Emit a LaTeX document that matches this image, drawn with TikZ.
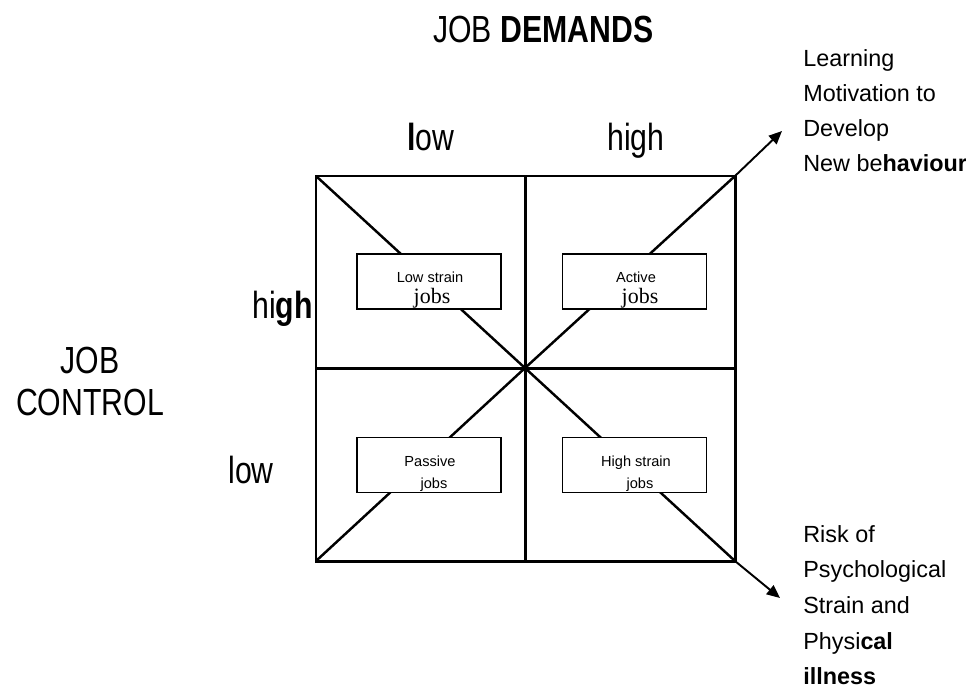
\documentclass[tikz,border=0pt]{standalone}
\usepackage{fontspec}
\setmainfont{Liberation Sans}
\newfontfamily\narrowfont[FakeStretch=0.8]{Liberation Sans}
\newfontfamily\timesfont{Liberation Serif}
\usetikzlibrary{arrows.meta,calc,positioning}
\tikzstyle{quad} = [draw=black, line width=1.7pt]
\tikzstyle{diag} = [draw=black, line width=1.4pt]
\tikzstyle{outarrow} = [line width=1.1pt, -{Triangle[length=7.5pt,width=6.5pt]}]
\tikzstyle{jobbox} = [draw=black, fill=white, line width=0.85pt, minimum width=2.88cm, minimum height=1.1cm, inner sep=0]
\tikzstyle{axislabel} = [font=\narrowfont\fontsize{21.5}{23.8}\selectfont, inner sep=0]
\tikzstyle{boxtxt} = [font=\fontsize{8.3}{10}\selectfont, inner sep=0, anchor=base]
\tikzstyle{serifjobs} = [font=\timesfont\fontsize{12.5}{14}\selectfont, inner sep=0, anchor=base]
\tikzstyle{outcome} = [font=\fontsize{13.3}{20}\selectfont, inner sep=0, align=left, anchor=north west]

\begin{document}
\begin{tikzpicture}[x=0.02cm,y=-0.02cm]
\useasboundingbox (0,0) rectangle (966,690);
\coordinate (tl) at (316,176);
\coordinate (tr) at (735,176);
\coordinate (bl) at (316,561);
\coordinate (br) at (735,561);
\coordinate (c) at (525,368);
\coordinate (tm) at (525,176);
\coordinate (bm) at (525,561);
\coordinate (lm) at (316,368);
\coordinate (rm) at (735,368);
\coordinate (learnend) at (782,131);
\coordinate (riskend) at (780,598);
% diagonals
\draw[diag] (tl)--(c);
\draw[diag] (tr)--(c);
\draw[diag] (bl)--(c);
\draw[diag] (br)--(c);
% the square
\draw[quad] (tl) rectangle (br);
\draw[quad] (tm)--(bm);
\draw[quad] (lm)--(rm);
\draw[outarrow] (tr)--(learnend);
\draw[outarrow] (br)--(riskend);
% the four jobs
\node[jobbox] (lowstrain) at (429,281.5) {};
\node[boxtxt] (lowstraintxt) at ($(lowstrain.south)+(1,-27)$) {Low strain};
\node[serifjobs] (lowstrainjobs) at ($(lowstrain.south)+(3,-6)$) {jobs};
\node[jobbox] (active) at (634.5,281.5) {};
\node[boxtxt] (activetxt) at ($(active.south)+(1.5,-27)$) {Active};
\node[serifjobs] (activejobs) at ($(active.south)+(5.5,-6)$) {jobs};
\node[jobbox] (passive) at (429,465) {};
\node[boxtxt] (passivetxt) at ($(passive.south)+(1,-27)$) {Passive};
\node[boxtxt] (passivejobs) at ($(passive.south)+(5,-5)$) {jobs};
\node[jobbox] (highstrain) at (634.5,465) {};
\node[boxtxt] (highstraintxt) at ($(highstrain.south)+(1.5,-27)$) {High strain};
\node[boxtxt] (highstrainjobs) at ($(highstrain.south)+(5.5,-5)$) {jobs};
% axis labels
\node[axislabel, anchor=base west] (demands) at (433,42) {JOB \textbf{DEMANDS}};
\node[axislabel, anchor=base west] (dlow) at (407,150) {\textbf{l}ow};
\node[axislabel, anchor=base west] (dhigh) at (607,150) {high};
\node[axislabel, align=center, anchor=north] (control) at (90,347) {JOB\\CONTROL};
\node[axislabel, anchor=base west] (chigh) at (252,318) {hi\textbf{gh}};
\node[axislabel, anchor=base west] (clow) at (228,483) {low};
% outcomes
\node[outcome] (learning) at (803,49) {Learning\\Motivation to\\Develop\\New be\textbf{haviour}};
\node[outcome, font=\fontsize{13.3}{20.3}\selectfont] (risk) at (803,525) {Risk of\\Psychological\\Strain and\\Physi\textbf{cal}\\\textbf{illness}};
\end{tikzpicture}
\end{document}
